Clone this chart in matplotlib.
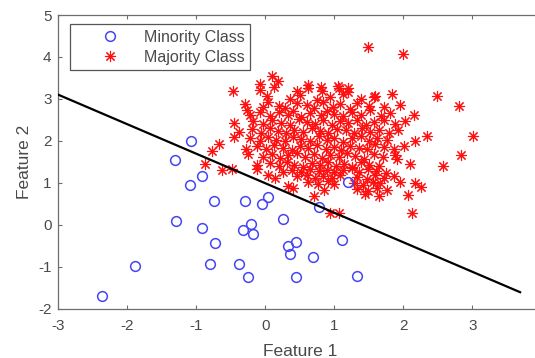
import matplotlib
matplotlib.use("Agg")
import matplotlib.pyplot as plt
from matplotlib.lines import Line2D

plt.rcParams['font.family'] = ['Liberation Sans', 'DejaVu Sans']

# ---------------- data ----------------
minority_x = [-1.08, -1.31, -0.92, -1.10, -0.74, -0.30, -0.05, 0.04, 0.25, -1.30,
              -0.92, -0.21, -0.32, -0.18, -0.73, 0.33, 0.44, 0.36, -0.80, -0.38,
              -0.26, 0.44, -1.89, -2.37, 1.20, 0.77, 0.69, 1.11, 1.32]
minority_y = [2.01, 1.55, 1.17, 0.95, 0.56, 0.56, 0.50, 0.66, 0.14, 0.09,
              -0.07, 0.02, -0.12, -0.22, -0.44, -0.49, -0.40, -0.68, -0.92, -0.92,
              -1.25, -1.25, -0.97, -1.70, 1.02, 0.42, -0.76, -0.36, -1.21]

majority_outer_x = [1.49, 1.99, 2.49, 2.81, 3.01, 2.83, 2.57, 2.26, 2.13, -0.47,
                    -0.08, 0.09, 0.18, 0.62, 0.81, 1.06, 1.20, 1.84, 1.59, 1.95,
                    2.15, 2.34, 2.16, -0.88, -0.78, -0.68, -0.63, -0.49, -0.46, -0.45,
                    -0.27, 0.93, 1.06, 0.71, 1.44, 1.65, 0.33, 1.90, 2.09, 1.95]
majority_outer_y = [4.24, 4.06, 3.07, 2.83, 2.13, 1.67, 1.40, 0.90, 0.29, 3.18,
                    3.36, 3.55, 3.44, 3.34, 3.28, 3.26, 3.26, 3.13, 3.06, 2.85,
                    2.61, 2.13, 2.01, 1.46, 1.77, 1.93, 1.30, 1.34, 2.09, 2.42,
                    2.73, 0.29, 0.29, 0.70, 0.74, 0.70, 0.94, 1.57, 1.46, 1.02]

majority_core_x = [
    -0.08, 0.12, 0.45, 0.62, 0.82, 1.05, 1.20,
    0.02, 0.36, 0.50, 0.75, 0.94, 1.13, 1.38, 1.58,
    -0.30, -0.04, 0.04, 0.20, 0.28, 0.45, 0.60, 0.70, 0.84, 0.98, 1.08, 1.22, 1.32, 1.50, 1.72,
    -0.23, -0.08, 0.06, 0.19, 0.33, 0.40, 0.52, 0.65, 0.80, 0.89, 1.00, 1.13, 1.26, 1.38, 1.52, 1.67, 1.81,
    -0.18, -0.04, 0.10, 0.22, 0.35, 0.48, 0.60, 0.72, 0.84, 0.97, 1.08, 1.20, 1.33, 1.46, 1.58, 1.72, 1.87, 2.02,
    -0.38, -0.20, -0.06, 0.06, 0.18, 0.30, 0.42, 0.55, 0.67, 0.79, 0.90, 1.03, 1.16, 1.28, 1.40, 1.52, 1.65, 1.79, 1.92,
    -0.22, -0.08, 0.03, 0.15, 0.28, 0.40, 0.52, 0.64, 0.77, 0.89, 1.00, 1.13, 1.26, 1.38, 1.50, 1.62, 1.76,
    -0.28, -0.13, 0.01, 0.12, 0.25, 0.38, 0.50, 0.62, 0.74, 0.87, 0.99, 1.10, 1.23, 1.35, 1.47, 1.59, 1.72, 1.86, 2.01,
    -0.25, -0.03, 0.09, 0.21, 0.33, 0.45, 0.58, 0.70, 0.82, 0.94, 1.06, 1.18, 1.30, 1.43, 1.57, 1.71, 1.88,
    -0.13, 0.06, 0.19, 0.31, 0.42, 0.55, 0.67, 0.79, 0.90, 1.02, 1.14, 1.26, 1.38, 1.50, 1.64,
    -0.12, 0.26, 0.39, 0.52, 0.64, 0.77, 0.89, 1.00, 1.12, 1.25, 1.36, 1.48, 1.60, 1.74,
    0.04, 0.14, 0.45, 0.60, 0.72, 0.84, 0.97, 1.08, 1.33, 1.47, 1.59, 1.72, 1.86,
    0.62, 0.76, 0.90, 0.99, 1.28, 1.42, 1.56, 1.66, 2.16,
    0.40, 0.85, 1.33, 1.48, 1.62, 1.76,
    2.06,
]
majority_core_y = [
    3.22, 3.28, 3.18, 3.25, 3.20, 3.30, 3.17,
    3.08, 3.00, 3.10, 2.98, 3.05, 3.12, 2.99, 3.04,
    2.88, 2.80, 2.92, 2.83, 2.78, 2.90, 2.86, 2.79, 2.93, 2.82, 2.87, 2.77, 2.91, 2.84, 2.80,
    2.62, 2.70, 2.60, 2.68, 2.63, 2.72, 2.58, 2.66, 2.61, 2.71, 2.64, 2.59, 2.69, 2.62, 2.73, 2.60, 2.67,
    2.48, 2.40, 2.50, 2.43, 2.38, 2.52, 2.46, 2.41, 2.49, 2.37, 2.47, 2.42, 2.51, 2.39, 2.45, 2.50, 2.41, 2.47,
    2.22, 2.28, 2.20, 2.30, 2.24, 2.18, 2.27, 2.21, 2.31, 2.23, 2.19, 2.29, 2.25, 2.20, 2.32, 2.22, 2.27, 2.18, 2.26,
    2.08, 2.01, 2.10, 2.03, 1.99, 2.09, 2.04, 2.00, 2.11, 2.02, 2.07, 1.98, 2.06, 2.12, 2.01, 2.08, 2.03,
    1.82, 1.88, 1.80, 1.90, 1.84, 1.79, 1.87, 1.83, 1.91, 1.81, 1.86, 1.78, 1.89, 1.84, 1.80, 1.92, 1.85, 1.82, 1.87,
    1.68, 1.62, 1.70, 1.60, 1.66, 1.72, 1.63, 1.69, 1.59, 1.67, 1.61, 1.71, 1.64, 1.58, 1.69, 1.62, 1.66,
    1.42, 1.48, 1.40, 1.50, 1.44, 1.39, 1.47, 1.43, 1.51, 1.41, 1.46, 1.38, 1.49, 1.44, 1.40,
    1.33, 1.27, 1.31, 1.25, 1.34, 1.28, 1.32, 1.26, 1.30, 1.35, 1.27, 1.33, 1.29, 1.24,
    1.18, 1.12, 1.16, 1.20, 1.11, 1.17, 1.13, 1.19, 1.14, 1.10, 1.18, 1.12, 1.16,
    1.02, 0.97, 1.04, 0.98, 1.01, 0.96, 1.03, 0.99, 1.00,
    0.88, 0.83, 0.86, 0.81, 0.89, 0.84,
    0.72,
]

boundary_x = [-3.0, 3.69]
boundary_y = [3.10, -1.60]

x_ticks = [-3, -2, -1, 0, 1, 2, 3]
y_ticks = [-2, -1, 0, 1, 2, 3, 4, 5]

# ---------------- figure ----------------
fig = plt.figure(figsize=(5.35, 3.58), dpi=100)
ax = fig.add_axes([0.1093, 0.1369, 0.9028, 0.8212])

axis_col = '#6e6e6e'
text_col = '#4a4a4a'
blue = '#4545f5'
asterisk = (8, 2, 0)

ax.plot(minority_x, minority_y, linestyle='none', marker='o', markersize=7,
        markerfacecolor='none', markeredgecolor=blue, markeredgewidth=1.1, zorder=3)
maj_x = majority_outer_x + majority_core_x
maj_y = majority_outer_y + majority_core_y
ax.plot(maj_x, maj_y, linestyle='none', marker=asterisk, markersize=8,
        markeredgecolor='#ff1010', markerfacecolor='#ff1010', markeredgewidth=0.8, zorder=2)
ax.plot(boundary_x, boundary_y, color='black', linewidth=1.6, zorder=4)

ax.set_xlim(-3, 4)
ax.set_ylim(-2, 5)
ax.set_xticks(x_ticks)
ax.set_yticks(y_ticks)
ax.set_xticklabels([str(t) for t in x_ticks])
ax.set_yticklabels([str(t) for t in y_ticks])
ax.tick_params(direction='in', length=3, width=0.8, color=axis_col,
               labelcolor=text_col, labelsize=11, top=True, right=True, pad=5)
ax.tick_params(axis='x', pad=7)
for s in ax.spines.values():
    s.set_color(axis_col)
    s.set_linewidth(0.9)

ax.set_xlabel('Feature 1', fontsize=12.5, color=text_col, labelpad=8)
ax.set_ylabel('Feature 2', fontsize=12.5, color=text_col, labelpad=4)

handles = [
    Line2D([], [], linestyle='none', marker='o', markersize=7, markerfacecolor='none',
           markeredgecolor=blue, markeredgewidth=1.1),
    Line2D([], [], linestyle='none', marker=asterisk, markersize=8,
           markeredgecolor='#ff1010', markeredgewidth=0.8),
]
leg = ax.legend(handles, ['Minority Class', 'Majority Class'], loc='upper left',
                bbox_to_anchor=(0.0238, 0.969), borderaxespad=0, fontsize=11.5,
                handlelength=4.25, handletextpad=0.0, borderpad=0.36, labelspacing=0.3,
                frameon=True, fancybox=False, framealpha=1)
leg.get_frame().set_edgecolor('#555555')
leg.get_frame().set_linewidth(0.9)
for t in leg.get_texts():
    t.set_color(text_col)

fig.savefig('out.png', dpi=100)
